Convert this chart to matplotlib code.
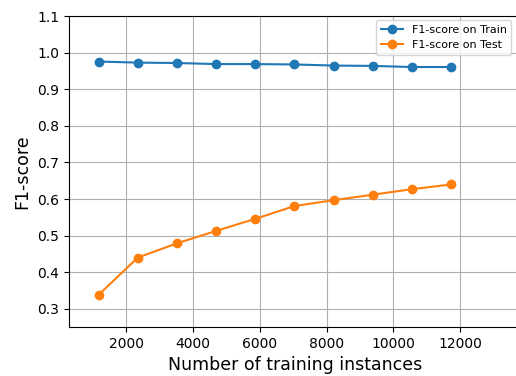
import matplotlib
matplotlib.use("Agg")
import matplotlib.pyplot as plt

train_sizes = [1173, 2346, 3519, 4692, 5865, 7038, 8211, 9384, 10557, 11730]
train_f1 = [0.976, 0.973, 0.972, 0.969, 0.969, 0.968, 0.965, 0.964, 0.961, 0.961]
test_f1 = [0.338, 0.440, 0.479, 0.513, 0.546, 0.581, 0.597, 0.612, 0.627, 0.640]

fig = plt.figure(figsize=(5.16, 3.76), dpi=100)
ax = fig.add_axes([0.134, 0.130, 0.876, 0.827])

ax.plot(train_sizes, train_f1, marker='o', label='F1-score on Train')
ax.plot(train_sizes, test_f1, marker='o', label='F1-score on Test')

ax.set_xlim(293, 13826)
ax.set_ylim(0.25, 1.1)
ax.set_xticks([2000, 4000, 6000, 8000, 10000, 12000])
ax.set_yticks([0.3, 0.4, 0.5, 0.6, 0.7, 0.8, 0.9, 1.0, 1.1])
ax.tick_params(labelsize=10)
ax.grid(True)
ax.set_xlabel('Number of training instances', fontsize=12.5)
ax.set_ylabel('F1-score', fontsize=12.5)
ax.legend(loc='upper right', fontsize=8, bbox_to_anchor=(0.99, 1.005))

fig.savefig('out.png', dpi=100)
